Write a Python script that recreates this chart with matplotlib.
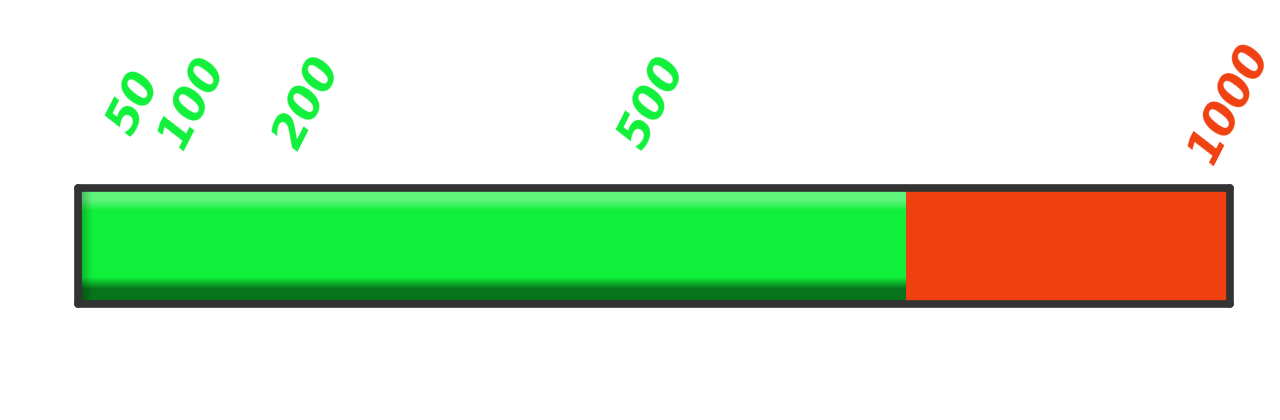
import numpy as np
import matplotlib
matplotlib.use('Agg')
import matplotlib.pyplot as plt

# data
total = 1000
progress = 718
tick_values = [50, 100, 200, 500, 1000]
tick_labels = ['50', '100', '200', '500', '1000']

green = np.array([0x10, 0xf0, 0x3a]) / 255
red = '#f04010'

fig = plt.figure(figsize=(12.8, 4.2), dpi=100)
# axes edges sit on the centre of the dark frame
ax = fig.add_axes([78/1280, (420-303.5)/420, 1152/1280, 116/420])
ax.set_xlim(0, total)
ax.set_ylim(0, 1)
ax.set_xticks([]), ax.set_yticks([])

# red remainder
ax.barh(0.5, total - progress, left=progress, height=1, color=red, zorder=1)

# green part with a glossy gradient
rows, cols = 116, 600
yy = np.linspace(1, 0, rows)[:, None]       # 1 = top
xx = np.linspace(0, progress, cols)[None, :]
light = np.clip((yy - 0.80) / 0.09, 0, 1)   # highlight band at top
dark = np.clip((0.22 - yy) / 0.10, 0, 1)    # shadow at bottom
edge = np.clip(1 - xx / 12, 0, 1)           # shadow at left end
img = np.ones((rows, cols, 3)) * green
img = img + (np.array([0.45, 0.96, 0.55]) - img) * light[..., None] * 0.8
img = img * (1 - 0.52 * dark[..., None])
img = img * (1 - 0.3 * edge[..., None])
ax.imshow(np.clip(img, 0, 1), extent=[0, progress, 0, 1], aspect='auto',
          interpolation='bilinear', zorder=2)
ax.set_xlim(0, total)
ax.set_ylim(0, 1)

for s in ax.spines.values():
    s.set_color('#333333')
    s.set_linewidth(5.5)
    s.set_capstyle('round')
    s.set_zorder(5)

# rotated value labels above the bar
for v, t in zip(tick_values, tick_labels):
    c = red if v > progress else green
    ax.text(v, 1.72, t, transform=ax.get_xaxis_transform(), rotation=63,
            rotation_mode='anchor', ha='center', va='center',
            fontsize=33, fontweight='bold', fontstyle='italic', color=c,
            family='DejaVu Sans')

fig.savefig('out.png', dpi=100, facecolor='white')
